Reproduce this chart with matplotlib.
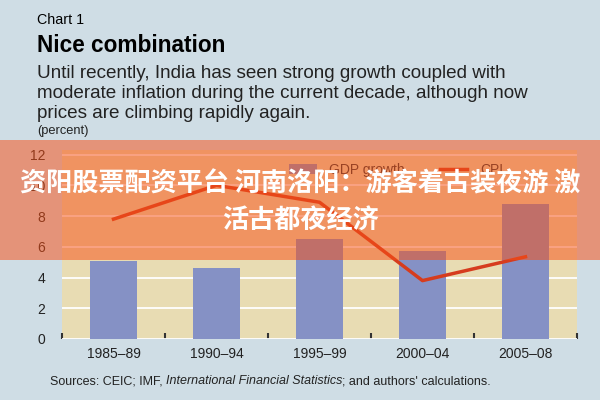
import numpy as np
import matplotlib.pyplot as plt

periods = ["1985–89", "1990–94", "1995–99", "2000–04", "2005–08"]
gdp_growth = [5.1, 4.6, 6.5, 5.7, 8.8]
cpi = [7.8, 10.0, 8.9, 3.8, 5.35]
y_ticks = [0, 2, 4, 6, 8, 10, 12]

bg = "#cfdde5"
plot_bg = "#e8dcb3"
bar_color = "#8591c5"
line_color = "#d63c1e"
font = "Liberation Sans"

fig = plt.figure(figsize=(6, 4), dpi=100, facecolor=bg)
ax = fig.add_axes([62 / 600, 1 - 339 / 400, 515 / 600, 189 / 400])
ax.set_facecolor(plot_bg)

x = np.arange(len(periods)) + 0.5
bars = ax.bar(x, gdp_growth, width=0.45, color=bar_color, zorder=3, label="GDP growth")
line, = ax.plot(x, cpi, color=line_color, lw=2.5, zorder=4, label="CPI")

ax.set_xlim(0, len(periods))
ax.set_ylim(0, 12.3)
ax.set_yticks(y_ticks)
ax.set_xticks(x)
ax.set_xticklabels(periods)
ax.set_xticks(np.arange(len(periods) + 1), minor=True)
ax.tick_params(axis="x", which="major", length=0, labelsize=10, pad=6, colors="#222222")
ax.tick_params(axis="x", which="minor", length=4, width=1.5, direction="in", color="#333333")
ax.tick_params(axis="y", length=0, labelsize=10, pad=12, colors="#222222")
for lab in ax.get_xticklabels() + ax.get_yticklabels():
    lab.set_family(font)
ax.grid(axis="y", color="white", lw=1.3, zorder=1)
for s in ax.spines.values():
    s.set_visible(False)

ax.legend(handles=[bars, line], loc="upper left", bbox_to_anchor=(289 / 600, 1 - 163 / 400),
          bbox_transform=fig.transFigure, ncol=2, frameon=False, borderpad=0,
          borderaxespad=0, columnspacing=2.5, handlelength=2.0, handleheight=0.8,
          handletextpad=0.9, labelcolor="#333333", prop={"family": font, "size": 10})

# header texts
fig.text(37 / 600, 1 - 20 / 400, "Chart 1", fontsize=10.3, family=font, va="center")
fig.text(37 / 600, 1 - 46 / 400, "Nice combination", fontsize=16.3, weight="bold",
         family=font, va="center")
sub = ["Until recently, India has seen strong growth coupled with",
       "moderate inflation during the current decade, although now",
       "prices are climbing rapidly again."]
for i, txt in enumerate(sub):
    fig.text(37 / 600, 1 - (73 + 20.5 * i) / 400, txt, fontsize=13.6,
             family=font, va="center", color="#222222")
fig.text(37 / 600, 1 - 131 / 400, "(percent)", fontsize=9.3, family=font,
         va="center", color="#222222")

# sources line with italic part
src_y = 1 - 381 / 400
t1 = fig.text(50 / 600, src_y, "Sources: CEIC; IMF, ", fontsize=9,
              family=font, va="center", color="#222222")
fig.canvas.draw()
r = fig.canvas.get_renderer()
x1 = t1.get_window_extent(r).x1 / fig.bbox.width
t2 = fig.text(x1, src_y, "International Financial Statistics", fontsize=9, style="italic",
              family=font, va="center", color="#222222")
fig.canvas.draw()
x2 = t2.get_window_extent(r).x1 / fig.bbox.width
fig.text(x2, src_y, "; and authors' calculations.", fontsize=9,
         family=font, va="center", color="#222222")

# overlay banner
band = plt.Rectangle((0, 1 - 260 / 400), 1, 120 / 400, transform=fig.transFigure,
                     facecolor="#f85016", alpha=0.52, zorder=10)
fig.add_artist(band)
fig.text(0.5, 1 - 184 / 400, "资阳股票配资平台 河南洛阳：游客着古装夜游 激", fontsize=18.8,
         weight="bold", color="white", ha="center", va="center", zorder=11,
         family=["Noto Sans CJK SC", "DejaVu Sans"])
fig.text(0.5, 1 - 220 / 400, "活古都夜经济", fontsize=18.8,
         weight="bold", color="white", ha="center", va="center", zorder=11,
         family=["Noto Sans CJK SC", "DejaVu Sans"])

fig.savefig("out.png", dpi=100, facecolor=bg)
